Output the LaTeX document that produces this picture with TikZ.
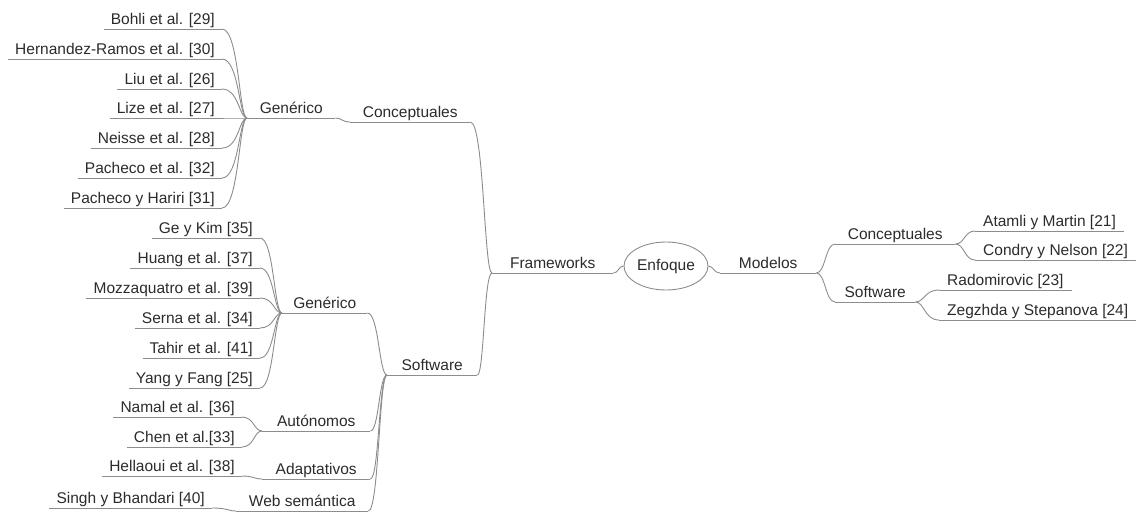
\documentclass[tikz,border=0pt]{standalone}
\usepackage{fontspec}
\setmainfont{Liberation Sans}
\usetikzlibrary{calc,shapes.geometric}
\definecolor{linegray}{HTML}{8C8C8C}
\definecolor{textgray}{HTML}{2B2B2B}
\tikzset{
  conn/.style={draw=linegray, line width=0.9pt},
  ul/.style={draw=linegray, line width=0.9pt},
  lbl/.style={text=textgray, inner xsep=7pt, inner ysep=1.5pt, text height=11pt, text depth=3pt},
  leafL/.style={lbl, anchor=south east},
  leafR/.style={lbl, anchor=south west, inner xsep=8pt},
  hubn/.style={lbl, anchor=south west, inner xsep=0pt, minimum width=#1},
}
\newcommand{\lnkL}[3][8pt]{\draw[conn] let \p1=(#2), \p2=(#3) in (\p1) .. controls ({\x2-#1},\y1) and ({\x2-#1},\y2) .. (\p2);}
\newcommand{\lnkR}[3][9pt]{\draw[conn] let \p1=(#2), \p2=(#3) in (\p1) .. controls ({\x1+#1},\y1) and ({\x1+#1},\y2) .. (\p2);}
\begin{document}
\begin{tikzpicture}[x=1pt,y=-1pt,font=\fontsize{15.5}{18}\selectfont]
\useasboundingbox (0,0) rectangle (1137,512);
% left top branch
\node[leafL] (bohli) at (222,29) {Bohli et al. [29]};
\node[leafL] (hern) at (222,59) {Hernandez-Ramos et al. [30]};
\node[leafL] (liu) at (222,89) {Liu et al. [26]};
\node[leafL] (lize) at (222,118) {Lize et al. [27]};
\node[leafL] (neisse) at (222,148) {Neisse et al. [28]};
\node[leafL] (pach) at (222,178) {Pacheco et al. [32]};
\node[leafL] (pachh) at (222,208) {Pacheco y Hariri [31]};
\node[hubn=88pt] (gen1) at (247,118) {Genérico};
\node[hubn=120pt] (concL) at (350,122) {Conceptuales};
\node[hubn=121pt] (fw) at (492,273) {Frameworks};
% left bottom branch
\node[hubn=90pt] (softL) at (387,375) {Software};
\node[hubn=85pt] (gen2) at (282,313) {Genérico};
\node[leafL] (gek) at (260,238) {Ge y Kim [35]};
\node[leafL] (huang) at (260,268) {Huang et al. [37]};
\node[leafL] (mozz) at (260,298) {Mozzaquatro et al. [39]};
\node[leafL] (serna) at (260,328) {Serna et al. [34]};
\node[leafL] (tahir) at (260,358) {Tahir et al. [41]};
\node[leafL] (yang) at (260,388) {Yang y Fang [25]};
\node[hubn=108pt] (auto) at (262,431) {Autónomos};
\node[leafL] (namal) at (242,417) {Namal et al. [36]};
\node[leafL] (chen) at (242,447) {Chen et al.[33]};
\node[hubn=108pt] (adapt) at (262,479) {Adaptativos};
\node[leafL] (hell) at (242,476) {Hellaoui et al. [38]};
\node[hubn=132pt] (web) at (236,511) {Web semántica};
\node[leafL] (singh) at (212,508) {Singh y Bhandari [40]};
% centre
\node[ellipse, draw=linegray, line width=0.9pt, minimum width=84pt, minimum height=48pt, inner sep=0pt, text=textgray] (enf) at (666,266) {Enfoque};
% right branch
\node[hubn=96pt] (mod) at (720,273) {Modelos};
\node[hubn=120pt] (concR) at (835,244) {Conceptuales};
\node[hubn=80pt] (softR) at (835,302) {Software};
\node[leafR] (atamli) at (975,231) {Atamli y Martin [21]};
\node[leafR] (condry) at (975,260) {Condry y Nelson [22]};
\node[leafR] (rado) at (939,290) {Radomirovic [23]};
\node[leafR] (zeg) at (939,320) {Zegzhda y Stepanova [24]};
% underlines
\foreach \n in {bohli,hern,liu,lize,neisse,pach,pachh,gen1,concL,fw,softL,gen2,gek,huang,mozz,serna,tahir,yang,auto,namal,chen,adapt,hell,web,singh,mod,concR,softR,atamli,condry,rado,zeg}
  \draw[ul] (\n.south west) -- (\n.south east);
% connectors
\foreach \c in {bohli,hern,liu,lize,neisse,pach,pachh} \lnkL{\c.south east}{gen1.south west};
\lnkL{gen1.south east}{concL.south west}
\lnkL{concL.south east}{fw.south west}
\lnkL{softL.south east}{fw.south west}
\foreach \c in {gek,huang,mozz,serna,tahir,yang} \lnkL{\c.south east}{gen2.south west};
\lnkL{gen2.south east}{softL.south west}
\lnkL{namal.south east}{auto.south west}
\lnkL{chen.south east}{auto.south west}
\lnkL{auto.south east}{softL.south west}
\lnkL{hell.south east}{adapt.south west}
\lnkL{adapt.south east}{softL.south west}
\lnkL{singh.south east}{web.south west}
\lnkL{web.south east}{softL.south west}
\lnkL[5pt]{fw.south east}{enf.west}
\lnkR[5pt]{enf.east}{mod.south west}
\lnkR{mod.south east}{concR.south west}
\lnkR{mod.south east}{softR.south west}
\lnkR{concR.south east}{atamli.south west}
\lnkR{concR.south east}{condry.south west}
\lnkR{softR.south east}{rado.south west}
\lnkR{softR.south east}{zeg.south west}
\end{tikzpicture}
\end{document}
